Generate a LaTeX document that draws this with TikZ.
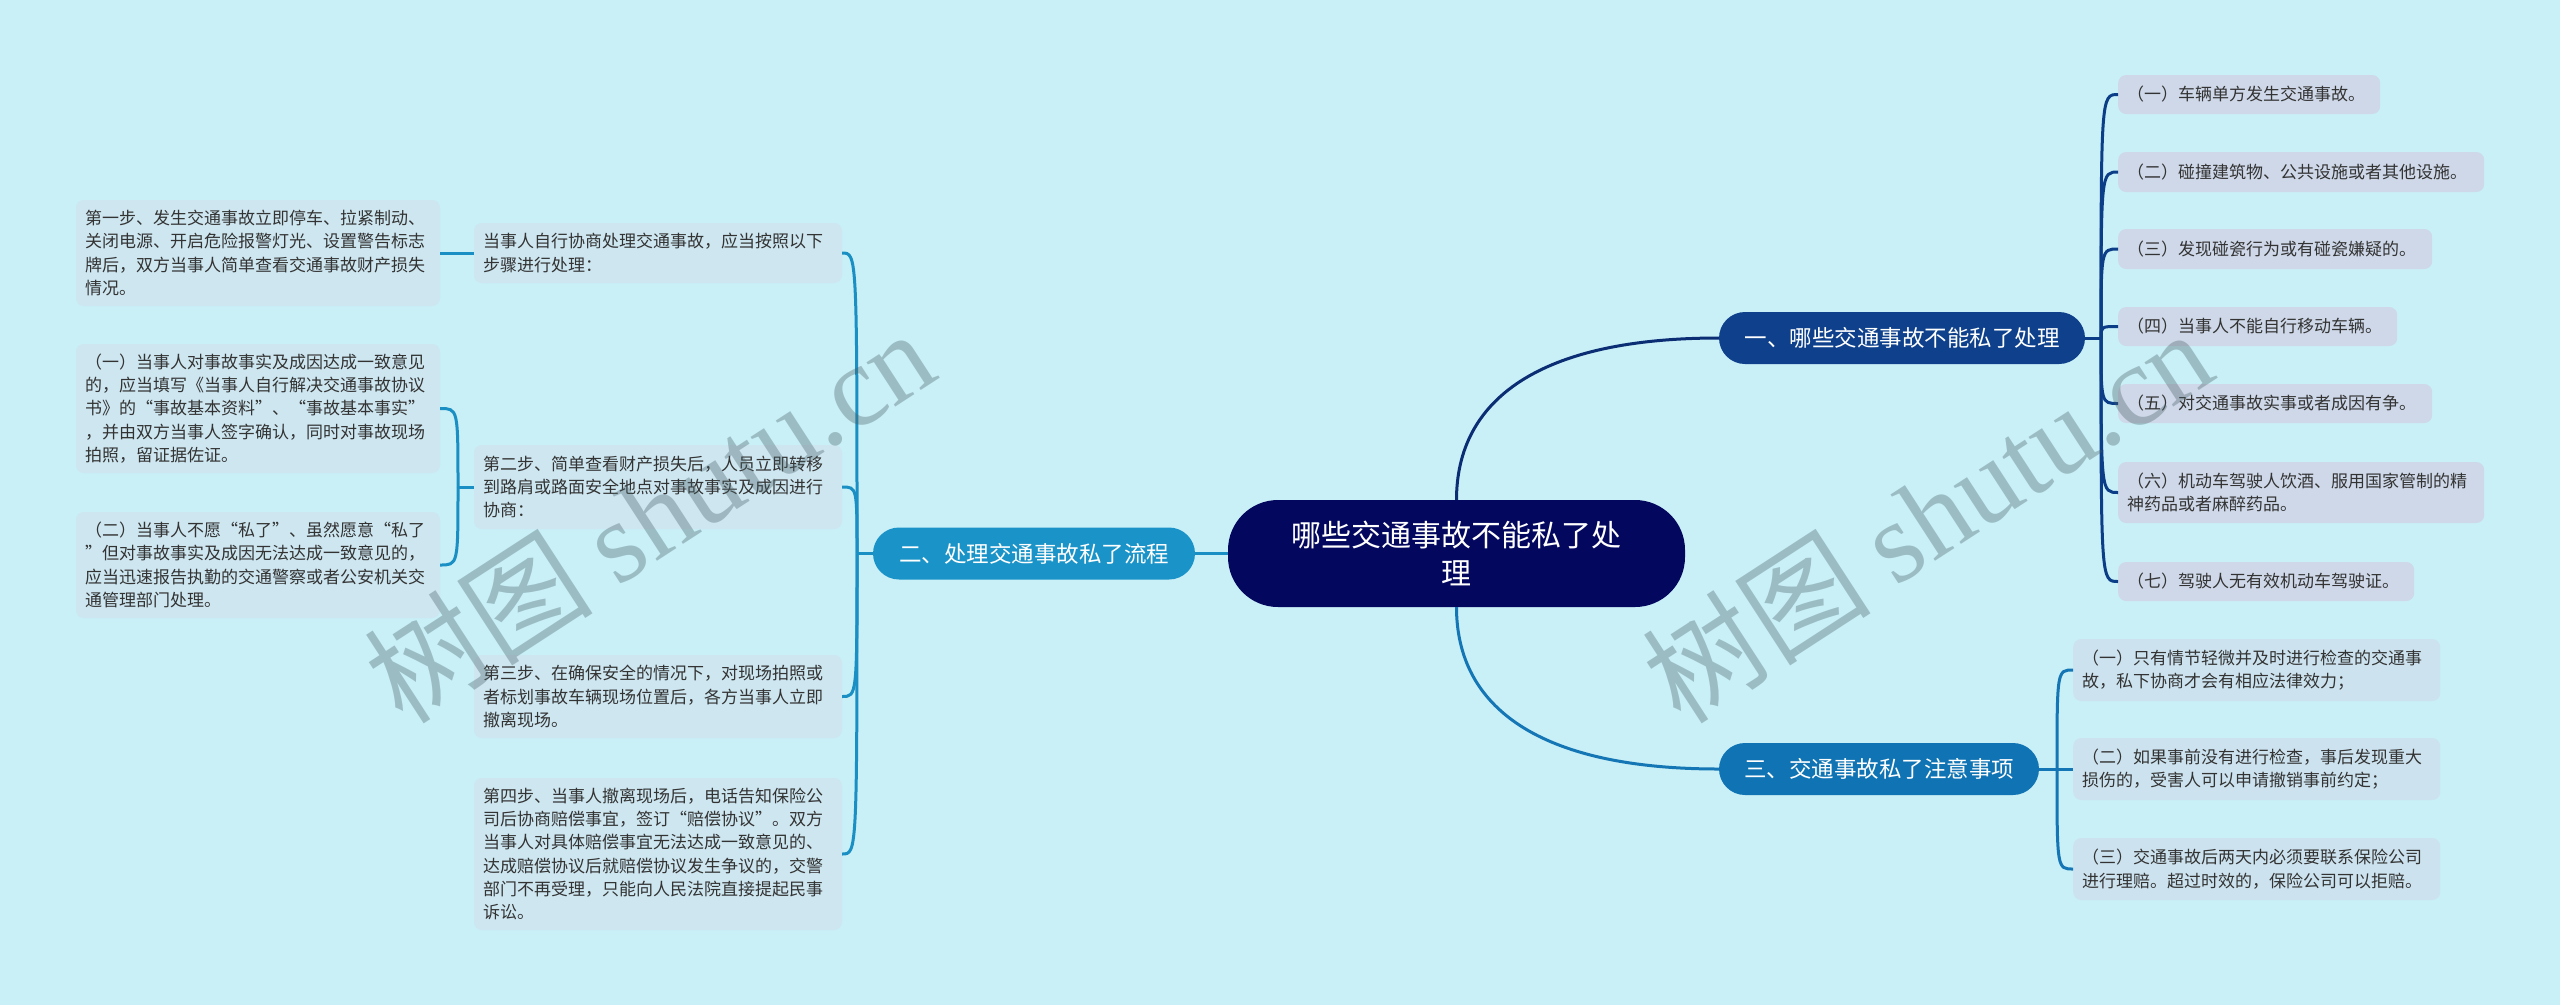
\documentclass[tikz,border=0pt]{standalone}
\usepackage{fontspec}
\setmainfont{Noto Sans CJK SC}
\newfontfamily\wmlatin{Liberation Serif}
\usetikzlibrary{calc}
\definecolor{bgc}{RGB}{201,239,247}
\definecolor{rootc}{RGB}{3,8,94}
\definecolor{bonec}{RGB}{14,64,139}
\definecolor{btwoc}{RGB}{26,148,200}
\definecolor{bthreec}{RGB}{16,116,180}
\definecolor{leafonec}{RGB}{206,216,232}
\definecolor{leaftwoc}{RGB}{205,230,240}
\definecolor{leafthreec}{RGB}{204,227,239}
\definecolor{txtc}{RGB}{51,51,51}
\definecolor{lonec}{RGB}{12,62,135}
\definecolor{ltwoc}{RGB}{25,143,195}
\definecolor{lthreec}{RGB}{20,118,180}
\definecolor{lrootc}{RGB}{10,45,115}
\definecolor{wmc}{RGB}{70,95,100}
\tikzset{
  leafbox/.style={rounded corners=8pt, text=txtc, font=\fontsize{17}{23.3}\selectfont,
    align=left, inner xsep=9pt, inner ysep=0pt},
  leafL/.style={leafbox, fill=leaftwoc},
  leafR/.style={leafbox, fill=leafonec, anchor=west},
  leafS/.style={leafbox, fill=leafthreec, anchor=west},
  branchbox/.style={rounded corners=26pt, text=white, font=\fontsize{22.5}{27}\selectfont,
    minimum height=52pt, inner sep=0pt},
  rootbox/.style={rounded corners=50pt, fill=rootc, text=white,
    font=\fontsize{30}{38}\selectfont, align=center, minimum width=457pt,
    minimum height=107pt, inner sep=0pt},
  conn/.style={line width=3pt},
  wm/.style={text=wmc, opacity=0.35, font=\fontsize{115}{120}\selectfont, inner sep=0pt}
}
\begin{document}
\begin{tikzpicture}[x=1pt,y=-1pt]
\fill[bgc] (0,0) rectangle (2560,1005);
\useasboundingbox (0,0) rectangle (2560,1005);

% root and branches
\node[rootbox] (root) at (1456.5,553.5) {哪些交通事故不能私了处\\理};
\node[branchbox, fill=bonec, minimum width=366pt] (b1) at (1902,338) {一、哪些交通事故不能私了处理};
\node[branchbox, fill=btwoc, minimum width=322pt] (b2) at (1034,553.5) {二、处理交通事故私了流程};
\node[branchbox, fill=bthreec, minimum width=320pt] (b3) at (1879,769) {三、交通事故私了注意事项};

% branch 1 leaves
\node[leafR, text width=244pt, minimum height=39pt] (l1) at (2118,94.5) {（一）车辆单方发生交通事故。};
\node[leafR, text width=348pt, minimum height=40pt] (l2) at (2118,172) {（二）碰撞建筑物、公共设施或者其他设施。};
\node[leafR, text width=296pt, minimum height=40pt] (l3) at (2118,249) {（三）发现碰瓷行为或有碰瓷嫌疑的。};
\node[leafR, text width=261pt, minimum height=39pt] (l4) at (2118,326.5) {（四）当事人不能自行移动车辆。};
\node[leafR, text width=296pt, minimum height=39pt] (l5) at (2118,403.5) {（五）对交通事故实事或者成因有争。};
\node[leafR, text width=348pt, minimum height=61pt] (l6) at (2118,492.5) {（六）机动车驾驶人饮酒、服用国家管制的精\\神药品或者麻醉药品。};
\node[leafR, text width=278pt, minimum height=39pt] (l7) at (2118,581.5) {（七）驾驶人无有效机动车驾驶证。};

% branch 3 leaves
\node[leafS, text width=349pt, minimum height=62pt] (n1) at (2073,670) {（一）只有情节轻微并及时进行检查的交通事\\故，私下协商才会有相应法律效力；};
\node[leafS, text width=349pt, minimum height=62pt] (n2) at (2073,769) {（二）如果事前没有进行检查，事后发现重大\\损伤的，受害人可以申请撤销事前约定；};
\node[leafS, text width=349pt, minimum height=62pt] (n3) at (2073,869) {（三）交通事故后两天内必须要联系保险公司\\进行理赔。超过时效的，保险公司可以拒赔。};

% branch 2 nodes
\node[leafL, text width=350pt, minimum height=60pt] (B) at (658,253) {当事人自行协商处理交通事故，应当按照以下\\步骤进行处理：};
\node[leafL, text width=346pt, minimum height=106pt] (A) at (258,253) {第一步、发生交通事故立即停车、拉紧制动、\\关闭电源、开启危险报警灯光、设置警告标志\\牌后，双方当事人简单查看交通事故财产损失\\情况。};
\node[leafL, text width=350pt, minimum height=84pt] (D) at (658,487) {第二步、简单查看财产损失后，人员立即转移\\到路肩或路面安全地点对事故事实及成因进行\\协商：};
\node[leafL, text width=346pt, minimum height=129pt] (C1) at (258,408.5) {（一）当事人对事故事实及成因达成一致意见\\的，应当填写《当事人自行解决交通事故协议\\书》的“事故基本资料”、“事故基本事实”\\，并由双方当事人签字确认，同时对事故现场\\拍照，留证据佐证。};
\node[leafL, text width=346pt, minimum height=106pt] (C2) at (258,565) {（二）当事人不愿“私了”、虽然愿意“私了\\”但对事故事实及成因无法达成一致意见的，\\应当迅速报告执勤的交通警察或者公安机关交\\通管理部门处理。};
\node[leafL, text width=350pt, minimum height=83pt] (E) at (658,696.5) {第三步、在确保安全的情况下，对现场拍照或\\者标划事故车辆现场位置后，各方当事人立即\\撤离现场。};
\node[leafL, text width=350pt, minimum height=152pt] (F) at (658,854) {第四步、当事人撤离现场后，电话告知保险公\\司后协商赔偿事宜，签订“赔偿协议”。双方\\当事人对具体赔偿事宜无法达成一致意见的、\\达成赔偿协议后就赔偿协议发生争议的，交警\\部门不再受理，只能向人民法院直接提起民事\\诉讼。};

% junctions
\coordinate (j1) at (2101,338);
\coordinate (j3) at (2057,769);
\coordinate (j2) at (857,553.5);
\coordinate (jD) at (458,487);

% root connectors
\draw[conn, draw=lrootc] (root.north) .. controls +(0,-100) and +(-180,0) .. (b1.west);
\draw[conn, draw=lthreec] (root.south) .. controls +(0,100) and +(-180,0) .. (b3.west);
\draw[conn, draw=ltwoc] (root.west) -- (b2.east);

% branch 1 connectors
\draw[conn, draw=lonec] (b1.east) -- (j1);
\foreach \n in {l1,l2,l3,l4,l5,l6,l7}
  \draw[conn, draw=lonec] (j1) .. controls (j1 |- \n.west) and (j1 |- \n.west) .. (\n.west);

% branch 3 connectors
\draw[conn, draw=lthreec] (b3.east) -- (j3);
\foreach \n in {n1,n2,n3}
  \draw[conn, draw=lthreec] (j3) .. controls (j3 |- \n.west) and (j3 |- \n.west) .. (\n.west);

% branch 2 connectors
\draw[conn, draw=ltwoc] (b2.west) -- (j2);
\foreach \n in {B,D,E,F}
  \draw[conn, draw=ltwoc] (j2) .. controls (j2 |- \n.east) and (j2 |- \n.east) .. (\n.east);
\draw[conn, draw=ltwoc] (B.west) -- (A.east);
\draw[conn, draw=ltwoc] (D.west) -- (jD);
\foreach \n in {C1,C2}
  \draw[conn, draw=ltwoc] (jD) .. controls (jD |- \n.east) and (jD |- \n.east) .. (\n.east);

% watermarks
\node[wm, rotate=33] (wm1) at (649,515) {树图 {\wmlatin shutu.cn}};
\node[wm, rotate=33] (wm2) at (1927,515) {树图 {\wmlatin shutu.cn}};
\end{tikzpicture}
\end{document}
